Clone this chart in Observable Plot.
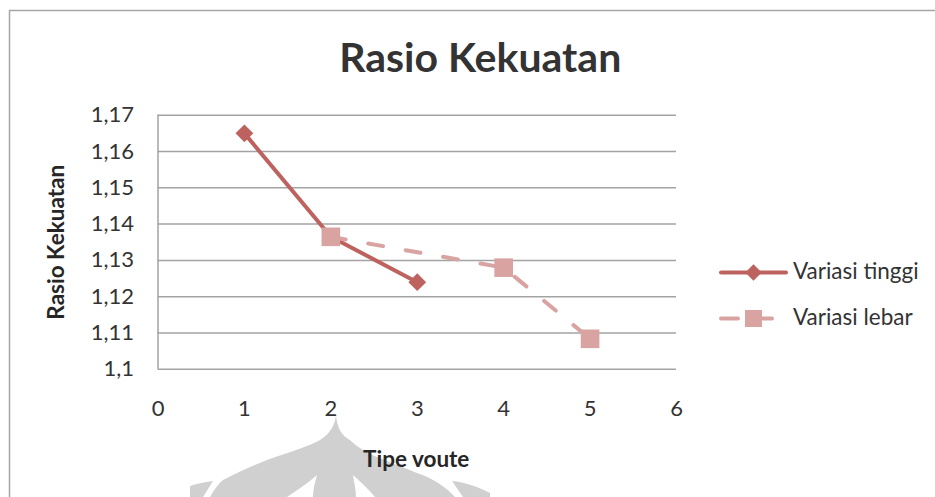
<!DOCTYPE html>
<html>
<head>
<meta charset="utf-8">
<script src="https://cdn.jsdelivr.net/npm/d3@7"></script>
<script src="https://cdn.jsdelivr.net/npm/@observablehq/plot@0.6"></script>
<style>
  html, body { margin: 0; padding: 0; background: #fff; }
  #chart { position: relative; width: 935px; height: 497px; overflow: hidden; font-family: Lato, "Open Sans", sans-serif; }
  #chart svg { position: absolute; left: 0; top: 0; }
</style>
</head>
<body>
<div id="chart"></div>
<script>
// Tipe voute (x) and strength ratio (y) for both variations
const tinggiX = [1, 2, 3];
const tinggiY = [1.165, 1.1365, 1.124];
const lebarX = [2, 4, 5];
const lebarY = [1.1365, 1.128, 1.1084];

const xTicks = [0, 1, 2, 3, 4, 5, 6];
const yTicks = [1.10, 1.11, 1.12, 1.13, 1.14, 1.15, 1.16, 1.17];

const seriesNames = ["Variasi tinggi", "Variasi lebar"];
const titleText = "Rasio Kekuatan";
const xTitle = "Tipe voute";
const yTitle = "Rasio Kekuatan";

const colTinggi = "#bd625e";
const colLebar = "#d9a3a2";
const gridCol = "#a3a3a3";
const textCol = "#333333";
const titleCol = "#262626";
const FONT = "Lato, 'Open Sans', sans-serif";

const tinggi = tinggiX.map((x, i) => ({x, y: tinggiY[i]}));
const lebar = lebarX.map((x, i) => ({x, y: lebarY[i]}));

const W = 935, H = 497;
const chart = document.getElementById("chart");

// Background layer: outer chart border and faint emblem behind the axis title
const bg = d3.select(chart).append("svg").attr("width", W).attr("height", H);
bg.append("rect").attr("x", 9.5).attr("y", 10.5).attr("width", W).attr("height", H)
  .attr("fill", "#fff").attr("stroke", "#a6a6a6").attr("stroke-width", 1.5);
const emb = bg.append("g").attr("fill", "#d0d0d0");
emb.append("path").attr("d",
  "M336,415 C337,428 342,436 350,440 C358,448 368,453 377,457 C392,463 405,468 417,473 " +
  "C432,478 445,486 455,497 L210,497 C214,490 218,484 223,480 C238,472 252,466 267,460 " +
  "C290,452 310,446 320,440 C330,434 335,425 336,415 Z");
emb.append("path").attr("d", "M190,486 C196,484 204,482 213,481 L203,497 L190,497 Z");
emb.append("path").attr("d", "M452,481 C465,482 478,487 490,493 L490,497 L463,497 Z");
const gaps = bg.append("g").attr("fill", "#fff");
gaps.append("path").attr("d", "M317,475 C309,482 298,490 287,497 L313,497 C313,490 315,482 317,475 Z");
gaps.append("path").attr("d", "M353,475 C361,482 369,490 375,497 L356,497 C356,490 354,482 353,475 Z");

// Legend
const lg = bg.append("g");
lg.append("line").attr("x1", 721).attr("x2", 786).attr("y1", 272.5).attr("y2", 272.5)
  .attr("stroke", colTinggi).attr("stroke-width", 4).attr("stroke-linecap", "round");
lg.append("path").attr("d", d3.symbol(d3.symbolDiamond2, 170)())
  .attr("transform", "translate(753.5,272.5)").attr("fill", colTinggi);
lg.append("line").attr("x1", 721).attr("x2", 738).attr("y1", 318.5).attr("y2", 318.5)
  .attr("stroke", colLebar).attr("stroke-width", 4).attr("stroke-linecap", "round");
lg.append("line").attr("x1", 760).attr("x2", 772).attr("y1", 318.5).attr("y2", 318.5)
  .attr("stroke", colLebar).attr("stroke-width", 4).attr("stroke-linecap", "round");
lg.append("rect").attr("x", 745).attr("y", 310).attr("width", 17).attr("height", 17).attr("fill", colLebar);
lg.selectAll("text").data(seriesNames).join("text")
  .attr("x", 793).attr("y", (d, i) => 279 + i * 46)
  .attr("font-family", FONT).attr("font-size", 22.5).attr("fill", textCol)
  .text(d => d);

const fmt = d => String(+d.toFixed(2)).replace(".", ",");

const plot = Plot.plot({
  width: W,
  height: H,
  marginLeft: 157.5,
  marginRight: 259,
  marginTop: 114.7,
  marginBottom: 128.2,
  style: {background: "transparent", fontFamily: FONT, fontSize: "22px", color: textCol},
  x: {domain: [0, 6]},
  y: {domain: [1.1, 1.17]},
  marks: [
    Plot.ruleY(yTicks, {stroke: gridCol, strokeWidth: 1.5}),
    Plot.ruleX([0], {stroke: gridCol, strokeWidth: 1.5}),
    Plot.axisY(yTicks, {tickSize: 0, tickPadding: 24, tickFormat: fmt, label: null, fontSize: 22, fill: textCol}),
    Plot.axisX(xTicks, {tickSize: 0, tickPadding: 31.5, tickFormat: d => String(d), label: null, fontSize: 22, fill: textCol}),
    Plot.line(tinggi, {x: "x", y: "y", stroke: colTinggi, strokeWidth: 4, strokeLinecap: "round"}),
    Plot.dot(tinggi, {x: "x", y: "y", symbol: "diamond2", r: 8, fill: colTinggi}),
    Plot.line(lebar, {x: "x", y: "y", stroke: colLebar, strokeWidth: 4, strokeLinecap: "round", strokeDasharray: "15,23"}),
    Plot.dot(lebar, {x: "x", y: "y", symbol: "square", r: 10.5, fill: colLebar}),
    Plot.text([titleText], {frameAnchor: "top", lineAnchor: "middle", textAnchor: "middle",
      dx: 63, dy: -56, fontSize: 41, fontWeight: "bold", fill: "#333333"}),
    Plot.text([xTitle], {frameAnchor: "bottom", lineAnchor: "middle", textAnchor: "middle",
      dx: -1, dy: 90, fontSize: 22.5, fontWeight: "bold", fill: titleCol}),
    Plot.text([yTitle], {frameAnchor: "left", lineAnchor: "middle", textAnchor: "middle",
      dx: -101.5, rotate: -90, fontSize: 22.5, fontWeight: "bold", fill: titleCol})
  ]
});
chart.appendChild(plot);
</script>
</body>
</html>
